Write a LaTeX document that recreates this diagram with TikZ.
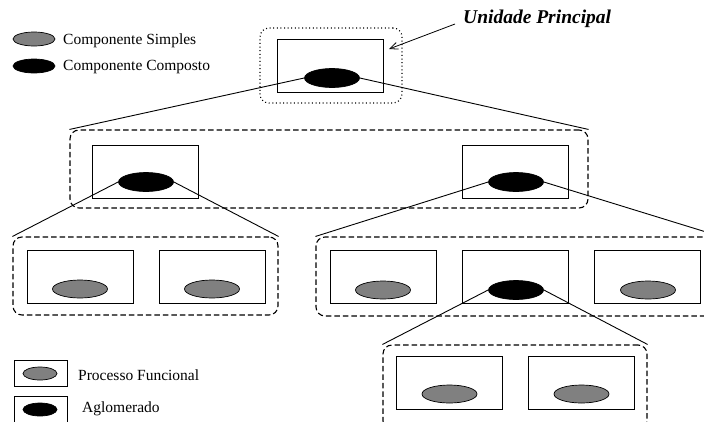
\documentclass[tikz,border=0pt]{standalone}
\usepackage{fontspec}
\setmainfont{Liberation Serif}
\usetikzlibrary{shapes.geometric,arrows.meta}
\begin{document}
\begin{tikzpicture}[x=1pt,y=-1pt,
  unitbox/.style={draw, line width=0.8pt, minimum width=106pt, minimum height=53pt, inner sep=0pt},
  simple/.style={ellipse, draw, line width=0.7pt, fill=gray, minimum width=55pt, minimum height=18pt, inner sep=0pt},
  composite/.style={ellipse, draw, line width=0.7pt, fill=black, minimum width=55pt, minimum height=19pt, inner sep=0pt},
  groupbox/.style={draw, line width=1.1pt, dash pattern=on 5.5pt off 3pt, rounded corners=9pt, inner sep=0pt},
  mainbox/.style={draw, line width=1.1pt, dash pattern=on 1pt off 2.6pt, rounded corners=9pt, inner sep=0pt},
  link/.style={line width=0.9pt},
  legendtext/.style={anchor=west, inner sep=0pt, font=\fontsize{15.5}{18}\selectfont},
]
\useasboundingbox (0,0) rectangle (704,421);

% legend: component kinds
\node[simple, minimum width=42pt, minimum height=14pt] (lsimple) at (34,39) {};
\node[legendtext] (tsimple) at (63,41) {Componente Simples};
\node[composite, minimum width=42pt, minimum height=14pt] (lcomp) at (34,66) {};
\node[legendtext] (tcomp) at (63,67) {Componente Composto};

% main unit
\node[mainbox, minimum width=142pt, minimum height=75pt] (gmain) at (331,65.5) {};
\node[unitbox] (rmain) at (330,65.5) {};
\node[composite] (emain) at (332,78) {};
\node[inner sep=0pt, anchor=base west, font=\fontsize{19.5}{24}\selectfont\bfseries\itshape] (title) at (463,23) {Unidade Principal};
\coordinate (tip) at (389,49);
\draw[line width=0.8pt, -{Straight Barb[length=8pt,width=7pt]}] ([xshift=-8pt,yshift=-1pt]title.base west) -- (tip);

% second level
\node[groupbox, minimum width=518pt, minimum height=78pt] (g2) at (329,169) {};
\node[unitbox] (r2a) at (145.5,171.5) {};
\node[composite] (e2a) at (146,182) {};
\node[unitbox] (r2b) at (515.5,171.5) {};
\node[composite] (e2b) at (516,182) {};
\draw[link] (emain.west) -- (g2.north west);
\draw[link] (emain.east) -- (g2.north east);

% third level, left
\node[groupbox, minimum width=265pt, minimum height=78pt] (g3a) at (145.5,276) {};
\node[unitbox] (r3a1) at (80,276.5) {};
\node[simple] (e3a1) at (80,289) {};
\node[unitbox] (r3a2) at (212,276.5) {};
\node[simple] (e3a2) at (212,289) {};
\draw[link] (e2a.west) -- (g3a.north west);
\draw[link] (e2a.east) -- (g3a.north east);

% third level, right
\node[groupbox, minimum width=404pt, minimum height=79pt] (g3b) at (518,276.5) {};
\node[unitbox] (r3b1) at (383,276.5) {};
\node[simple] (e3b1) at (383,290) {};
\node[unitbox] (r3b2) at (515.5,276.5) {};
\node[composite] (e3b2) at (516,290) {};
\node[unitbox] (r3b3) at (647.5,276.5) {};
\node[simple] (e3b3) at (648,290) {};
\draw[link] (e2b.west) -- (g3b.north west);
\draw[link] (e2b.east) -- (g3b.north east);

% fourth level
\node[groupbox, minimum width=264pt, minimum height=85pt] (g4) at (515,387.5) {};
\node[unitbox] (r4a) at (449.5,383) {};
\node[simple] (e4a) at (449.5,394) {};
\node[unitbox] (r4b) at (581,383) {};
\node[simple] (e4b) at (581.5,394) {};
\draw[link] (e3b2.west) -- (g4.north west);
\draw[link] (e3b2.east) -- (g4.north east);

% legend: unit kinds
\node[draw, line width=0.8pt, minimum width=53pt, minimum height=26pt, inner sep=0pt] (lproc) at (40.5,373) {};
\node[simple, minimum width=34pt, minimum height=13pt] (lproce) at (40,373.5) {};
\node[legendtext] (tproc) at (78,375) {Processo Funcional};
\node[draw, line width=0.8pt, minimum width=53pt, minimum height=26pt, inner sep=0pt] (lagl) at (40.5,409) {};
\node[composite, minimum width=34pt, minimum height=13pt] (lagle) at (40,409.5) {};
\node[legendtext] (tagl) at (82,409) {Aglomerado};
\end{tikzpicture}
\end{document}
